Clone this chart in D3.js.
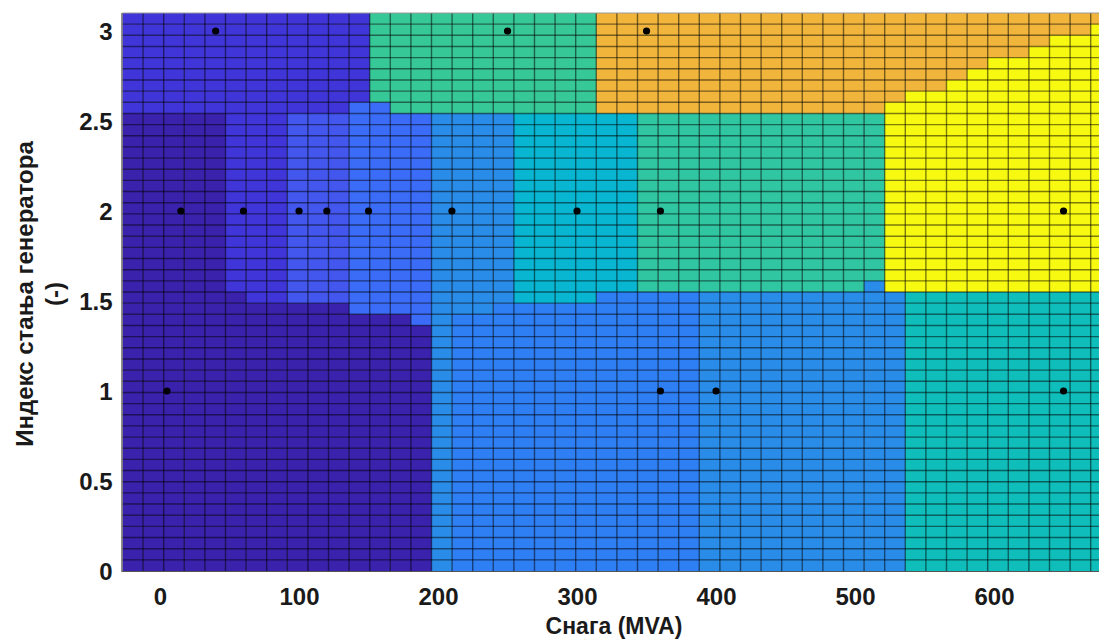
<!DOCTYPE html>
<html><head><meta charset="utf-8">
<script src="https://cdn.jsdelivr.net/npm/d3@7"></script>
<style>
body{margin:0;background:#fff;}
svg{display:block;}
text{font-family:"Liberation Sans",Arial,sans-serif;font-weight:bold;fill:#1a1a1a;}
</style>
</head><body>
<svg id="chart" width="1099" height="640"></svg>
<script>
// ---- data ----
const xTicks = [0, 100, 200, 300, 400, 500, 600];
const yTicks = [0, 0.5, 1, 1.5, 2, 2.5, 3];
const xLimits = [-27, 681];
const yLimits = [0, 3.1];
const xLabel = "Снага (MVA)";
const yLabelLines = ["Индекс стања генератора", "(-)"];

// classification mesh: origin, step, size
const meshX0 = -27, meshStepX = 14.82, meshCols = 48;
const meshY0 = 3.1, meshStepY = 0.062, meshRows = 50;

// class colours
const classColors = {
  a: "#3a22ad", b: "#4035d9", c: "#4357ef", d: "#3a6cf7", e: "#2e7ef4",
  f: "#2a8ce9", g: "#08b6d2", h: "#0fbdba", i: "#37c897", j: "#31c6a2",
  k: "#f0b53a", l: "#f8f910"
};

// rows from top: [number of identical rows, run-length classes]
const rowRuns = [
  [1,  "b12 i11 k25"],
  [1,  "b12 i11 k24 l1"],
  [1,  "b12 i11 k22 l3"],
  [1,  "b12 i11 k21 l4"],
  [1,  "b12 i11 k19 l6"],
  [1,  "b12 i11 k18 l7"],
  [1,  "b12 i11 k17 l8"],
  [1,  "b12 i11 k15 l10"],
  [1,  "b11 d2 i10 k14 l11"],
  [15, "a5 b3 c3 d4 f4 g6 j12 l11"],
  [1,  "a5 b3 c3 d4 f4 g6 j11 f1 l11"],
  [1,  "a6 b2 c3 d4 f4 g4 e5 f10 h10"],
  [1,  "a11 d4 f3 e10 f10 h10"],
  [1,  "a14 d1 f1 e12 f10 h10"],
  [22, "a15 f1 e12 f10 h10"]
];

// observed samples (black dots)
const dotX = [40, 250, 350, 15, 60, 100, 120, 150, 210, 300, 360, 650, 5, 360, 400, 650];
const dotY = [3, 3, 3, 2, 2, 2, 2, 2, 2, 2, 2, 2, 1, 1, 1, 1];

(function () {
// ---- layout ----
const svg = d3.select("#chart");
const pL = 122.5, pT = 13, pB = 571;
const x = d3.scaleLinear().domain(xLimits).range([pL, pL + (xLimits[1] - xLimits[0]) * 1.39]);
const y = d3.scaleLinear().domain(yLimits).range([pB, pT]);
const pR = x.range()[1];

svg.append("defs").append("clipPath").attr("id", "plotClip")
  .append("rect").attr("x", pL).attr("y", pT).attr("width", pR - pL).attr("height", pB - pT);

// expand runs into cell list
const cells = [];
let r = 0;
rowRuns.forEach(([count, runs]) => {
  for (let k = 0; k < count; k++, r++) {
    let c = 0;
    runs.split(" ").forEach(tok => {
      const cls = tok[0], n = +tok.slice(1);
      for (let m = 0; m < n; m++, c++) cells.push({ row: r, col: c, cls });
    });
  }
});

const plot = svg.append("g").attr("clip-path", "url(#plotClip)");
const colEdge = c => meshX0 + c * meshStepX;
const rowEdge = rr => meshY0 - rr * meshStepY;

plot.selectAll("rect.cell").data(cells).join("rect")
  .attr("class", "cell")
  .attr("x", d => x(colEdge(d.col)))
  .attr("y", d => y(rowEdge(d.row)))
  .attr("width", d => x(colEdge(d.col + 1)) - x(colEdge(d.col)) + 0.5)
  .attr("height", d => y(rowEdge(d.row + 1)) - y(rowEdge(d.row)) + 0.5)
  .attr("fill", d => classColors[d.cls]);

// mesh edges
const vIdx = d3.range(1, meshCols + 1), hIdx = d3.range(1, meshRows);
plot.selectAll("line.v").data(vIdx).join("line").attr("class", "v")
  .attr("x1", c => x(colEdge(c))).attr("x2", c => x(colEdge(c)))
  .attr("y1", pT).attr("y2", pB)
  .attr("stroke", "#000").attr("stroke-opacity", 0.5).attr("stroke-width", 1.4);
plot.selectAll("line.h").data(hIdx).join("line").attr("class", "h")
  .attr("y1", rr => y(rowEdge(rr))).attr("y2", rr => y(rowEdge(rr)))
  .attr("x1", pL).attr("x2", pR)
  .attr("stroke", "#000").attr("stroke-opacity", 0.5).attr("stroke-width", 1.4);

// dots
plot.selectAll("circle").data(dotX.map((v, i) => [v, dotY[i]])).join("circle")
  .attr("cx", d => x(d[0])).attr("cy", d => y(d[1])).attr("r", 3.6).attr("fill", "#000");

// axes frame
svg.append("line").attr("x1", pL).attr("x2", pR).attr("y1", pT).attr("y2", pT)
  .attr("stroke", "#9a9a9a").attr("stroke-width", 1);
svg.append("line").attr("x1", pL).attr("x2", pR).attr("y1", pB + 0.5).attr("y2", pB + 0.5)
  .attr("stroke", "#555").attr("stroke-width", 1.2);
svg.append("line").attr("x1", pL - 0.5).attr("x2", pL - 0.5).attr("y1", pT).attr("y2", pB + 1)
  .attr("stroke", "#444").attr("stroke-width", 1.2);

// tick labels
const xAxis = d3.axisBottom(x).tickValues(xTicks).tickSize(0).tickPadding(0).tickFormat(d3.format("d"));
const gx = svg.append("g").attr("transform", `translate(0,${pB})`).call(xAxis);
gx.select(".domain").remove();
gx.selectAll("text").attr("dy", null).attr("y", 34).attr("font-size", 24)
  .style("font-family", '"Liberation Sans", Arial, sans-serif').style("font-weight", "bold").attr("fill", "#1a1a1a");

const yAxis = d3.axisLeft(y).tickValues(yTicks).tickSize(0).tickPadding(0).tickFormat(d => String(d));
const gy = svg.append("g").attr("transform", `translate(${pL},0)`).call(yAxis);
gy.select(".domain").remove();
gy.selectAll("text").attr("x", -10).attr("dy", "0.36em").attr("font-size", 24)
  .style("font-family", '"Liberation Sans", Arial, sans-serif').style("font-weight", "bold").attr("fill", "#1a1a1a");

// axis labels
svg.append("text").attr("x", 614).attr("y", 634).attr("text-anchor", "middle")
  .attr("font-size", 23).text(xLabel);
const yl = svg.append("text").attr("transform", "translate(0,294) rotate(-90)")
  .attr("text-anchor", "middle").attr("font-size", 24);
yLabelLines.forEach((t, i) => yl.append("tspan").attr("x", 0).attr("y", i === 0 ? 33 : 63).text(t));
})();
</script>
</body></html>
